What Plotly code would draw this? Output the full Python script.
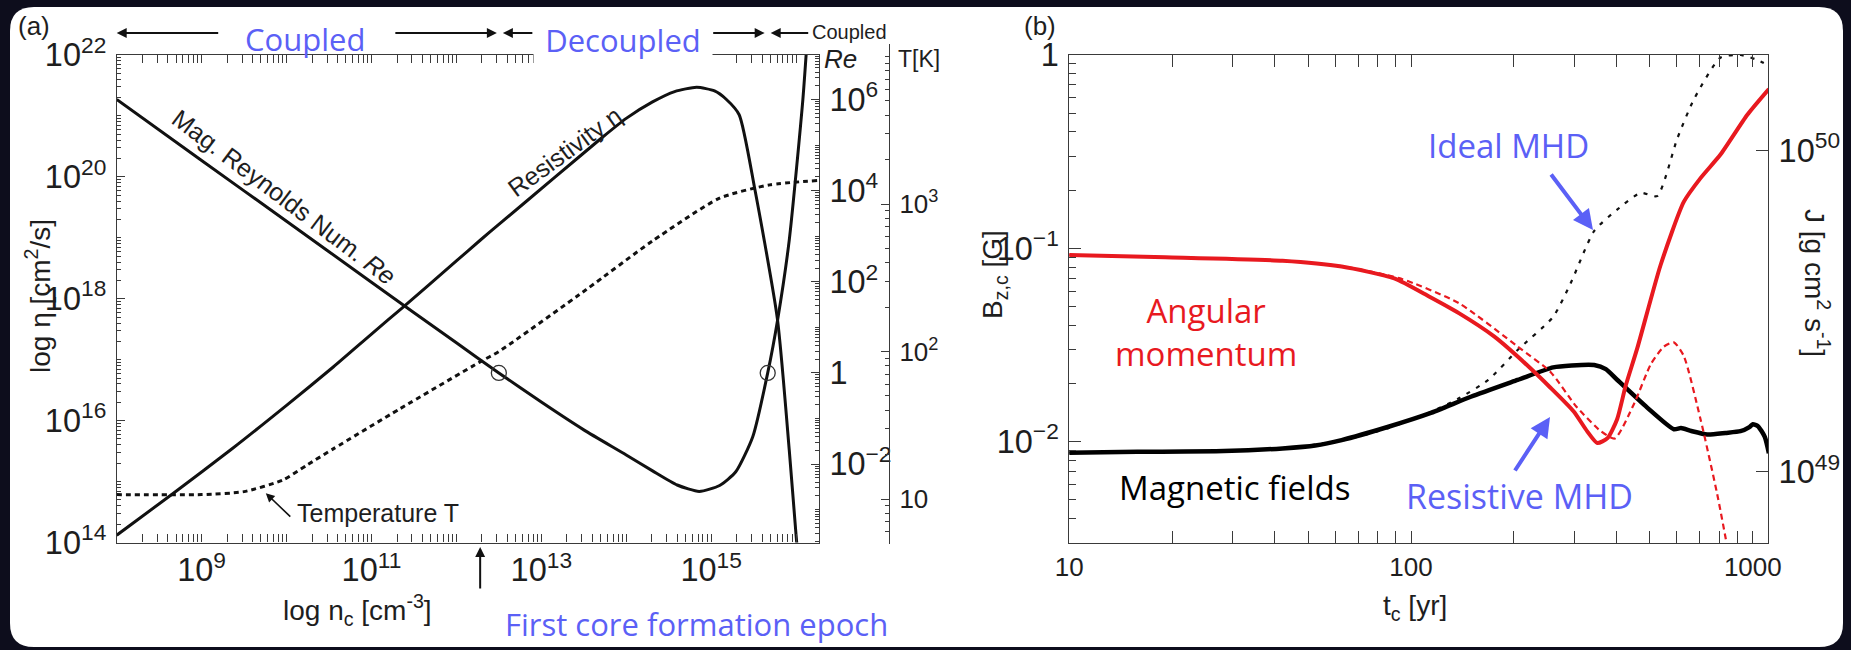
import numpy as np
import plotly.graph_objects as go

W, H = 1851, 650


def fx(px):
    """horizontal pixel -> paper fraction"""
    return px / W


def fy(py):
    """vertical pixel measured from the top -> paper fraction"""
    return 1 - py / H


# ---------------- (a) resistivity, Reynolds number and temperature vs central density ----------------
# all values are log10
eta_log_n = [8.0, 8.66, 9.37, 10.0, 10.55, 11.0, 11.37, 12.0, 12.28, 12.5, 13.14, 13.72, 14.0, 14.31,
             14.57, 14.83, 15.04, 15.18, 15.33, 15.51, 15.78, 15.92, 16.0, 16.02]
eta_log = [14.12, 14.8, 15.55, 16.25, 16.88, 17.42, 17.86, 18.62, 18.96, 19.22, 19.97, 20.65, 20.96, 21.23,
           21.40, 21.47, 21.41, 21.27, 21.02, 19.83, 17.67, 15.51, 14.12, 13.8]

re_log_n = [8.0, 9.0, 10.0, 11.0, 12.0, 12.5, 13.0, 13.5, 14.0, 14.31, 14.6, 14.86, 15.1, 15.29,
            15.49, 15.666, 15.784, 15.92, 16.08, 16.13]
re_log = [6.0, 4.66, 3.33, 1.99, 0.66, 0.0, -0.64, -1.25, -1.8, -2.15, -2.46, -2.6, -2.47, -2.17,
          -1.40, 0.0, 1.18, 2.92, 6.0, 7.3]

temp_log_n = [8.0, 9.0, 9.5, 9.96, 10.24, 10.55, 11.33, 12.28, 12.5, 13.53, 14.31, 15.1, 15.69, 16.27]
temp_log = [1.03, 1.03, 1.05, 1.13, 1.23, 1.34, 1.61, 1.93, 2.00, 2.42, 2.75, 3.04, 3.13, 3.16]
temp_ticks = [10, 100, 1000]
temp_tick_text = ["10", "10<sup>2</sup>", "10<sup>3</sup>"]

decoupled_log_n = [12.5, 15.666]     # Re = 1 crossings bounding the decoupled phase
first_core_log_n = 12.28             # first core formation epoch
re_unity = 1.0

# ---------------- (b) central field and angular momentum vs time ----------------
# log10 t_c [yr]
t_bz_res = [1.0, 1.2, 1.452, 1.624, 1.72, 1.797, 1.934, 2.054, 2.175, 2.312, 2.416, 2.47, 2.536,
            2.57, 2.603, 2.691, 2.769, 2.79, 2.82, 2.867, 2.92, 2.964, 2.99, 3.0, 3.015, 3.035, 3.047]
bz_res = [-2.057, -2.053, -2.049, -2.035, -2.02, -1.992, -1.923, -1.854, -1.768, -1.681, -1.616,
          -1.606, -1.604, -1.625, -1.68, -1.824, -1.936, -1.93, -1.945, -1.963, -1.955, -1.946,
          -1.925, -1.91, -1.92, -1.975, -2.06]

t_bz_ideal = [1.0, 1.452, 1.624, 1.797, 1.934, 2.054, 2.14, 2.226, 2.312, 2.416, 2.467, 2.536,
              2.603, 2.672, 2.72, 2.779, 2.828, 2.906, 2.964, 3.008, 3.047]
bz_ideal = [-2.057, -2.049, -2.035, -1.995, -1.93, -1.85, -1.776, -1.681, -1.526, -1.354, -1.181,
            -0.91, -0.8, -0.713, -0.73, -0.432, -0.228, -0.013, 0.0, -0.022, -0.054]

t_j_res = [1.0, 1.281, 1.624, 1.797, 1.951, 2.054, 2.14, 2.244, 2.312, 2.408, 2.476, 2.515, 2.545,
           2.575, 2.603, 2.628, 2.662, 2.73, 2.798, 2.847, 2.906, 2.984, 3.047]
j_res = [49.675, 49.668, 49.657, 49.639, 49.602, 49.545, 49.494, 49.421, 49.359, 49.262, 49.188,
         49.127, 49.09, 49.105, 49.164, 49.268, 49.385, 49.643, 49.84, 49.914, 49.988, 50.111, 50.191]

t_j_ideal = [1.0, 1.281, 1.624, 1.797, 1.968, 2.14, 2.312, 2.408, 2.484, 2.555, 2.596, 2.653, 2.702,
             2.74, 2.769, 2.798, 2.847, 2.896, 2.93]
j_ideal = [49.675, 49.668, 49.657, 49.64, 49.602, 49.525, 49.39, 49.311, 49.203, 49.127, 49.104,
           49.213, 49.336, 49.39, 49.403, 49.361, 49.164, 48.93, 48.74]


def p10(v):
    return (10.0 ** np.asarray(v, dtype=float)).tolist()


SANS = "Liberation Sans, Arial, sans-serif"
HAND = "Open Sans, sans-serif"
AX = "#3a3a3a"
TXT = "#1e1e1e"
BLUE = "#5b60f6"
RED = "#e8191f"
GRAY_BAND = "#c2c3c7"

fig = go.Figure()

# ---- (a) traces ----
fig.add_trace(go.Scatter(x=p10(eta_log_n), y=p10(eta_log), xaxis="x", yaxis="y", mode="lines",
                         line=dict(color="#111", width=3, shape="spline", smoothing=0.6),
                         showlegend=False, hoverinfo="skip"))
fig.add_trace(go.Scatter(x=p10(re_log_n), y=p10(re_log), xaxis="x", yaxis="y2", mode="lines",
                         line=dict(color="#111", width=3, shape="spline", smoothing=0.6),
                         showlegend=False, hoverinfo="skip"))
fig.add_trace(go.Scatter(x=p10(decoupled_log_n), y=[re_unity, re_unity], xaxis="x", yaxis="y2",
                         mode="markers",
                         marker=dict(symbol="circle-open", size=15, color="#333", line=dict(width=1.3)),
                         showlegend=False, hoverinfo="skip"))
fig.add_trace(go.Scatter(x=p10(temp_log_n), y=p10(temp_log), xaxis="x2", yaxis="y3", mode="lines",
                         line=dict(color="#111", width=3, dash="5px,4px", shape="spline", smoothing=0.6),
                         showlegend=False, hoverinfo="skip"))

# ---- (b) traces ----
fig.add_trace(go.Scatter(x=p10(t_bz_ideal), y=p10(bz_ideal), xaxis="x3", yaxis="y4", mode="lines",
                         line=dict(color="#111", width=2.2, dash="4px,7px", shape="spline", smoothing=0.6),
                         showlegend=False, hoverinfo="skip"))
fig.add_trace(go.Scatter(x=p10(t_bz_res), y=p10(bz_res), xaxis="x3", yaxis="y4", mode="lines",
                         line=dict(color="#000", width=4.5, shape="spline", smoothing=0.6),
                         showlegend=False, hoverinfo="skip"))
fig.add_trace(go.Scatter(x=p10(t_j_ideal), y=p10(j_ideal), xaxis="x3", yaxis="y5", mode="lines",
                         line=dict(color=RED, width=2.2, dash="6px,4px", shape="spline", smoothing=0.6),
                         showlegend=False, hoverinfo="skip"))
fig.add_trace(go.Scatter(x=p10(t_j_res), y=p10(j_res), xaxis="x3", yaxis="y5", mode="lines",
                         line=dict(color=RED, width=4, shape="spline", smoothing=0.6),
                         showlegend=False, hoverinfo="skip"))

# ---- axes ----
tickfont = dict(family=SANS, size=26, color=TXT)
base = dict(showline=True, linecolor=AX, linewidth=1.4, ticks="inside", tickcolor=AX, tickwidth=1.2,
            showgrid=False, zeroline=False, tickfont=tickfont, type="log", exponentformat="power")

A_L, A_R, A_T, A_B = 116.7, 819.0, 55.0, 542.5
B_L, B_R, B_T, B_B = 1069.2, 1768.2, 55.0, 543.3

fig.update_layout(
    xaxis=dict(base, domain=[fx(A_L), fx(A_R)], anchor="y", range=[8, 16.27], tick0=9, dtick=2,
               ticklen=8, mirror="allticks",
               minor=dict(ticks="inside", ticklen=4, dtick="D1", tickcolor=AX, showgrid=False)),
    yaxis=dict(base, domain=[fy(A_B), fy(A_T)], anchor="x", range=[14, 22], tick0=14, dtick=2,
               ticklen=8, ticklabelstandoff=4,
               minor=dict(ticks="inside", ticklen=4, dtick="D1", tickcolor=AX, showgrid=False)),
    yaxis2=dict(base, overlaying="y", side="right", anchor="x", range=[-3.722, 6.977], tick0=0,
                dtick=2, ticklen=8, ticklabelstandoff=4,
                minor=dict(ticks="inside", ticklen=4, dtick="D1", tickcolor=AX, showgrid=False)),
    xaxis2=dict(type="log", domain=[fx(A_L), fx(A_R)], anchor="y3", range=[8, 16.27], visible=False),
    yaxis3=dict(base, domain=[fy(544), fy(44)], anchor="free", position=fx(889), side="right",
                range=[0.695, 4.085], tickmode="array", tickvals=temp_ticks, ticktext=temp_tick_text,
                ticklen=8, ticklabelstandoff=4,
                minor=dict(ticks="inside", ticklen=4, dtick="D1", tickcolor=AX, showgrid=False)),
    xaxis3=dict(base, domain=[fx(B_L), fx(B_R)], anchor="y4", range=[1, 3.045], dtick=1,
                exponentformat="none", ticklen=12, mirror="allticks",
                minor=dict(ticks="inside", ticklen=7, dtick="D1", tickcolor=AX, showgrid=False)),
    yaxis4=dict(base, domain=[fy(B_B), fy(B_T)], anchor="x3", range=[-2.526, 0.0], dtick=1,
                ticklen=12, ticklabelstandoff=4,
                minor=dict(ticks="inside", ticklen=7, dtick="D1", tickcolor=AX, showgrid=False)),
    yaxis5=dict(base, overlaying="y4", side="right", anchor="x3", range=[48.778, 50.297], dtick=1,
                ticklen=12, ticklabelstandoff=4),
)

# ---- shapes: slide card, decoupled band, reference lines ----
def rounded_rect(x0, y0, x1, y1, r):
    pts = [
        f"M {fx(x0 + r)},{fy(y0)}", f"L {fx(x1 - r)},{fy(y0)}", f"Q {fx(x1)},{fy(y0)} {fx(x1)},{fy(y0 + r)}",
        f"L {fx(x1)},{fy(y1 - r)}", f"Q {fx(x1)},{fy(y1)} {fx(x1 - r)},{fy(y1)}",
        f"L {fx(x0 + r)},{fy(y1)}", f"Q {fx(x0)},{fy(y1)} {fx(x0)},{fy(y1 - r)}",
        f"L {fx(x0)},{fy(y0 + r)}", f"Q {fx(x0)},{fy(y0)} {fx(x0 + r)},{fy(y0)}", "Z",
    ]
    return " ".join(pts)


shapes = [
    dict(type="path", path=rounded_rect(10, 7, 1843, 647, 24), xref="paper", yref="paper",
         fillcolor="white", line=dict(width=0), layer="below"),
    dict(type="rect", xref="x", yref="y domain", x0=decoupled_log_n[0], x1=decoupled_log_n[1],
         y0=0, y1=1, fillcolor=GRAY_BAND, line=dict(width=0), layer="below"),
    dict(type="line", xref="x", yref="y domain", x0=first_core_log_n, x1=first_core_log_n, y0=0, y1=1,
         line=dict(color="#222", width=1.4, dash="10px,8px"), layer="below"),
    dict(type="line", xref="x domain", yref="y2", x0=0, x1=1, y0=np.log10(re_unity), y1=np.log10(re_unity),
         line=dict(color="#6a6a6a", width=1.3, dash="13px,7px"), layer="below"),
]
fig.update_layout(shapes=shapes)

# ---- annotations ----
ann = []


def text(s, x, y, size=26, color=TXT, family=SANS, angle=0, xanchor="center", yanchor="middle", **kw):
    ann.append(dict(text=s, x=fx(x), y=fy(y), xref="paper", yref="paper", showarrow=False,
                    font=dict(size=size, color=color, family=family), textangle=angle,
                    xanchor=xanchor, yanchor=yanchor, **kw))


def arrow(x, y, ax, ay, xref="paper", yref="paper", color="#111", width=2, head=2, size=1.0, xshift=0):
    ann.append(dict(text="", x=x, y=y, xref=xref, yref=yref, ax=ax, ay=ay, axref="pixel", ayref="pixel",
                    showarrow=True, arrowhead=head, arrowsize=size, arrowwidth=width, arrowcolor=color,
                    standoff=0, xshift=xshift))


# panel labels
text("(a)", 34, 26, size=26)
text("(b)", 1040, 26, size=26)

# coupling arrows over panel (a)
y_arr = fy(33)
arrow(8.0, y_arr, 103, 0, xref="x")
arrow(decoupled_log_n[0], y_arr, -103, 0, xref="x", xshift=-2)
arrow(decoupled_log_n[0], y_arr, 31, 0, xref="x", xshift=4)
arrow(decoupled_log_n[1], y_arr, -53, 0, xref="x", xshift=-3)
arrow(decoupled_log_n[1], y_arr, 39, 0, xref="x", xshift=3)
text("Coupled", 305, 39, size=31, color=BLUE, family=HAND)
ann.append(dict(text="Decoupled", x=fx(623), y=fy(40), xref="paper", yref="paper", showarrow=False,
                font=dict(size=31, color=BLUE, family=HAND), bgcolor="white", width=170, height=46,
                borderpad=4, xanchor="center", yanchor="middle"))
text("Coupled", 810, 32, size=20, xanchor="left")

# right-hand axis headers
text("<i>Re</i>", 840, 59, size=26)
text("T[K]", 896, 59, size=23, xanchor="left")

# curve labels in (a)
text("Mag. Reynolds Num. <i>Re</i>", 284, 197, size=25, angle=37)
text("Resistivity η", 564, 152, size=25, angle=-36)
arrow(9.756, 14.81, 26, 25, xref="x", yref="y", width=1.6, head=2, size=1.1)
text("Temperature T", 295, 513, size=25, xanchor="left")

# first core epoch marker
arrow(first_core_log_n, fy(547), 0, 43, xref="x", width=2, head=2, size=1.0)
text("First core formation epoch", 503, 624, size=31, color=BLUE, family=HAND, xanchor="left")

# axis titles (a)
text("log η [cm<sup>2</sup>/s]", 38, 296, size=28, angle=-90)
text("log n<sub>c</sub> [cm<sup>-3</sup>]", 357, 610, size=28)

# axis titles (b)
text("B<sub>z,c</sub> [G]", 994, 275, size=28, angle=-90)
text("t<sub>c</sub> [yr]", 1415, 607, size=28)
text("J [g cm<sup>2</sup> s<sup>-1</sup>]", 1817, 283, size=28, angle=90)

# curve labels in (b)
text("Angular<br>momentum", 1206, 332, size=33, color=RED, family=HAND)
text("Magnetic fields", 1234, 487, size=33, color="#000", family=HAND)
text("Ideal MHD", 1508, 145, size=33, color=BLUE, family=HAND)
text("Resistive MHD", 1519, 496, size=34, color=BLUE, family=HAND)
arrow(fx(1593), fy(230), -43, -57, color=BLUE, width=4, head=2, size=1.0)
arrow(fx(1550), fy(417), -36, 55, color=BLUE, width=4, head=2, size=1.0)

fig.update_layout(
    annotations=ann,
    width=W, height=H,
    margin=dict(l=0, r=0, t=0, b=0),
    paper_bgcolor="#0d0d1c",
    plot_bgcolor="rgba(0,0,0,0)",
    template="none",
    showlegend=False,
)

fig.write_html("out.html")
